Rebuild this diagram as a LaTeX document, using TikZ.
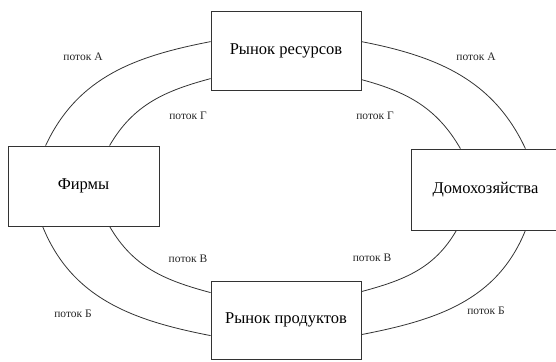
\documentclass[tikz,border=0pt]{standalone}
\usepackage{fontspec}
\setmainfont{Liberation Serif}
\usetikzlibrary{arrows}
\tikzset{
  market/.style={draw=black!80, line width=0.8pt, fill=white, inner sep=0pt,
    font=\fontsize{16.5}{18}\selectfont},
  flow/.style={black!80, line width=0.8pt},
  flowlabel/.style={font=\fontsize{11.5}{13}\selectfont, text=black!85}
}
\begin{document}
\begin{tikzpicture}[x=1pt,y=-1pt]
    \useasboundingbox (0,0) rectangle (556,361);

    \node[market, minimum width=150pt, minimum height=79pt] (res) at (286,50.5) {Рынок ресурсов};
    \node[market, minimum width=151pt, minimum height=80pt] (firms) at (83.5,186) {Фирмы};
    \node[market, minimum width=149pt, minimum height=81pt] (homes) at (485.5,189.5) {Домохозяйства};
    \node[market, minimum width=150pt, minimum height=78pt] (prod) at (286,320) {Рынок продуктов};

    % outer ring
    \draw[flow] ([xshift=38pt]firms.north west) to[out=65,in=191] ([yshift=-31pt]res.north west);
    \draw[flow] ([yshift=-31pt]res.north east) to[out=-11,in=115] ([xshift=-35pt]homes.north east);
    \draw[flow] ([xshift=35pt]firms.south west) to[out=-68,in=169] ([yshift=-55pt]prod.north west);
    \draw[flow] ([xshift=-35pt]homes.south east) to[out=-112,in=11] ([yshift=-54pt]prod.north east);

    % inner ring
    \draw[flow] ([xshift=102pt]firms.north west) to[out=60,in=195] ([yshift=-68pt]res.north west);
    \draw[flow] ([yshift=-69pt]res.north east) to[out=-15,in=120] ([xshift=-100pt]homes.north east);
    \draw[flow] ([xshift=102pt]firms.south west) to[out=-60,in=165] ([yshift=-12pt]prod.north west);
    \draw[flow] ([xshift=-104pt]homes.south east) to[out=-120,in=15] ([yshift=-11pt]prod.north east);

    \node[flowlabel] (la1) at (83,57) {поток А};
    \node[flowlabel] (la2) at (476,57) {поток А};
    \node[flowlabel] (lg1) at (188,116) {поток Г};
    \node[flowlabel] (lg2) at (375,116) {поток Г};
    \node[flowlabel] (lv1) at (188,259) {поток В};
    \node[flowlabel] (lv2) at (372,258) {поток В};
    \node[flowlabel] (lb1) at (73,314) {поток Б};
    \node[flowlabel] (lb2) at (486,311) {поток Б};
\end{tikzpicture}
\end{document}
